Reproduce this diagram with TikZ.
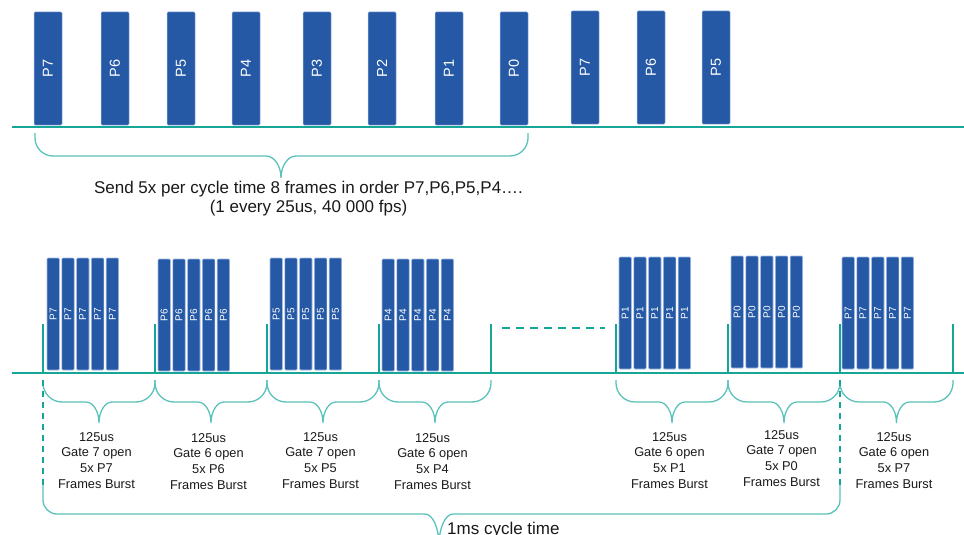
\documentclass[tikz,border=0pt]{standalone}
\usepackage{fontspec}
\setmainfont{Liberation Sans}
\definecolor{barblue}{RGB}{37,89,166}
\definecolor{baredge}{RGB}{160,185,225}
\definecolor{axisteal}{RGB}{22,166,152}
\definecolor{braceteal}{RGB}{90,194,186}
\definecolor{txtgray}{RGB}{25,25,25}
% #1 style, #2 x1, #3 x2, #4 xtip, #5 yend, #6 ybar, #7 ytip, #8 corner radius, #9 tip half width
\newcommand\mybrace[9]{%
  \draw[#1] ({#2},{#5}) -- ({#2},{#6-#8})
    .. controls ({#2},{#6-0.45*#8}) and ({#2+0.45*#8},{#6}) .. ({#2+#8},{#6})
    -- ({#4-#9},{#6})
    .. controls ({#4-0.45*#9},{#6}) and ({#4},{#7-0.55*(#7-#6)}) .. ({#4},{#7})
    .. controls ({#4},{#7-0.55*(#7-#6)}) and ({#4+0.45*#9},{#6}) .. ({#4+#9},{#6})
    -- ({#3-#8},{#6})
    .. controls ({#3-0.45*#8},{#6}) and ({#3},{#6-0.45*#8}) .. ({#3},{#6-#8})
    -- ({#3},{#5});}
\begin{document}
\begin{tikzpicture}[x=1pt,y=-1pt,
  topbar/.style={rectangle, rounded corners=1pt, fill=barblue, draw=baredge, line width=0.5pt,
    rotate=90, minimum width=113pt, minimum height=28pt, inner sep=0pt, text=white,
    font=\fontsize{14.5}{15}\selectfont},
  smallbar/.style={rectangle, rounded corners=1pt, fill=barblue, draw=baredge, line width=0.6pt,
    rotate=90, minimum width=112pt, minimum height=12.4pt, inner sep=0pt, text=white,
    font=\fontsize{10}{10}\selectfont},
  axisline/.style={draw=axisteal, line width=2pt},
  tickline/.style={draw=axisteal, line width=1.6pt},
  bracestyle/.style={draw=braceteal, line width=1.3pt},
  dashline/.style={draw=axisteal, line width=2pt, dash pattern=on 6pt off 5pt},
  lbl/.style={align=center, inner sep=0pt, anchor=north, text=txtgray,
    font=\fontsize{12.8}{15.8}\selectfont}]
\useasboundingbox (0,0) rectangle (964,535);

% ---------- top timeline ----------
\foreach \l/\lab/\t [count=\i] in {34/P7/12,101/P6/12,167/P5/12,232/P4/12,303/P3/12,368/P2/12,435/P1/12,500/P0/12,571/P7/11,637/P6/11,702/P5/11}
  \node[topbar] (top\i) at (\l+14,\t+56.5) {\lab};
\coordinate (ta) at (12,127);
\coordinate (tb) at (964,127);
\draw[axisline] (ta) -- (tb);

\mybrace{bracestyle}{35}{528}{281}{133}{156}{178}{18}{15}
\node[align=center, inner sep=0pt, anchor=north, text=txtgray,
  font=\fontsize{17}{19.5}\selectfont] (sendtxt) at (308.5,180.5)
  {Send 5x per cycle time 8 frames in order P7,P6,P5,P4….\\(1 every 25us, 40 000 fps)};

% ---------- bottom timeline ----------
\coordinate (ba) at (12,373);
\coordinate (bb) at (964,373);
\draw[axisline] (ba) -- (bb);

\foreach \x [count=\i] in {43,155,267,379,491,616,728,840,953}{
  \coordinate (k\i) at (\x,373);
  \coordinate (kt\i) at (\x,324);
  \draw[tickline] (k\i) -- (kt\i);
}

\foreach \gx/\lab/\t [count=\i] in {47/P7/258,158/P6/259,270/P5/258,382/P4/259,619/P1/257,731/P0/256,842/P7/257}{
  \foreach \j in {0,...,4}
    \node[smallbar] (g\i-\j) at (\gx+\j*14.8+6.2,\t+56) {\lab};
}

% dashed continuation
\coordinate (d1) at (502,328);
\coordinate (d2) at (605,328);
\draw[dashline, dash pattern=on 8pt off 6pt] (d1) -- (d2);

% small braces and their labels
\foreach \xa/\xb in {43/155,155/267,267/379,379/491,616/728,728/840,840/953}
  \mybrace{bracestyle}{\xa}{\xb}{(\xa+\xb)/2}{380}{402}{423}{19}{13};

\foreach \x/\g/\p/\y [count=\i] in {99/7/P7/432,211/6/P6/433,323/7/P5/432,435/6/P4/433,672/6/P1/432,784/7/P0/430,896.5/6/P7/432}
  \node[lbl] (lab\i) at (\x-2.5,\y) {125us\\Gate \g\ open\\5x \p\\Frames Burst};

% cycle brace
\coordinate (c1) at (43,380);
\coordinate (c1b) at (43,485);
\coordinate (c2) at (840,380);
\coordinate (c2b) at (840,490);
\draw[dashline] (c1) -- (c1b);
\draw[dashline] (c2) -- (c2b);
\mybrace{bracestyle}{43}{840}{439}{485}{514}{545}{14}{14}
\node[inner sep=0pt, anchor=north west, text=txtgray,
  font=\fontsize{17}{19.5}\selectfont] (cyctxt) at (447,522) {1ms cycle time};
\end{tikzpicture}
\end{document}
